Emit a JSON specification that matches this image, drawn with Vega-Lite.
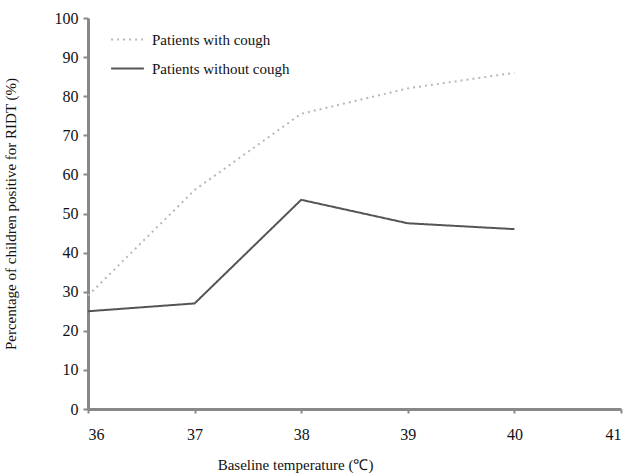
{
  "$schema": "https://vega.github.io/schema/vega-lite/v6.json",
  "width": 533,
  "height": 391,
  "autosize": {"type": "none"},
  "padding": {"left": 88, "top": 18, "right": 6, "bottom": 66},
  "background": "white",
  "config": {
    "font": "Liberation Serif",
    "view": {"stroke": null}
  },
  "data": {
    "values": [
      {"temp": 36, "pct": 29, "group": "Patients with cough"},
      {"temp": 37, "pct": 56, "group": "Patients with cough"},
      {"temp": 38, "pct": 75.5, "group": "Patients with cough"},
      {"temp": 39, "pct": 82, "group": "Patients with cough"},
      {"temp": 40, "pct": 86, "group": "Patients with cough"},
      {"temp": 36, "pct": 25, "group": "Patients without cough"},
      {"temp": 37, "pct": 27, "group": "Patients without cough"},
      {"temp": 38, "pct": 53.5, "group": "Patients without cough"},
      {"temp": 39, "pct": 47.5, "group": "Patients without cough"},
      {"temp": 40, "pct": 46, "group": "Patients without cough"}
    ]
  },
  "mark": {"type": "line", "strokeWidth": 2},
  "encoding": {
    "x": {
      "field": "temp", "type": "quantitative",
      "scale": {"domain": [36, 41], "nice": false, "zero": false},
      "axis": {
        "title": "Baseline temperature (℃)",
        "values": [36, 37, 38, 39, 40, 41],
        "format": "d",
        "grid": false,
        "domainColor": "#888", "domainWidth": 3,
        "tickColor": "#888", "tickWidth": 2, "tickSize": 4,
        "labelFont": "Liberation Serif", "labelFontSize": 16, "labelColor": "#111", "labelPadding": 13,
        "titleFont": "Liberation Serif", "titleFontSize": 15, "titleFontWeight": "normal", "titleColor": "#111",
        "titleX": 207, "titleY": 48, "titleAnchor": "middle", "titleBaseline": "top"
      }
    },
    "y": {
      "field": "pct", "type": "quantitative",
      "scale": {"domain": [0, 100], "nice": false},
      "axis": {
        "title": "Percentage of children positive for RIDT (%)",
        "values": [0, 10, 20, 30, 40, 50, 60, 70, 80, 90, 100],
        "grid": false,
        "domainColor": "#888", "domainWidth": 3,
        "tickColor": "#888", "tickWidth": 2, "tickSize": 5,
        "labelFont": "Liberation Serif", "labelFontSize": 16, "labelColor": "#111", "labelPadding": 5,
        "titleFont": "Liberation Serif", "titleFontSize": 15, "titleFontWeight": "normal", "titleColor": "#111",
        "titleX": -70
      }
    },
    "color": {
      "field": "group", "type": "nominal",
      "scale": {"domain": ["Patients with cough", "Patients without cough"], "range": ["#b8b8b8", "#555555"]},
      "legend": {
        "title": null,
        "orient": "none", "legendX": 22, "legendY": 4,
        "symbolType": "stroke", "symbolSize": 1075, "symbolStrokeWidth": 2,
        "labelFont": "Liberation Serif", "labelFontSize": 15, "labelColor": "#111",
        "rowPadding": 3, "labelOffset": 7
      }
    },
    "strokeDash": {
      "field": "group", "type": "nominal",
      "scale": {"domain": ["Patients with cough", "Patients without cough"], "range": [[2, 4], [1, 0]]},
      "legend": null
    }
  }
}
